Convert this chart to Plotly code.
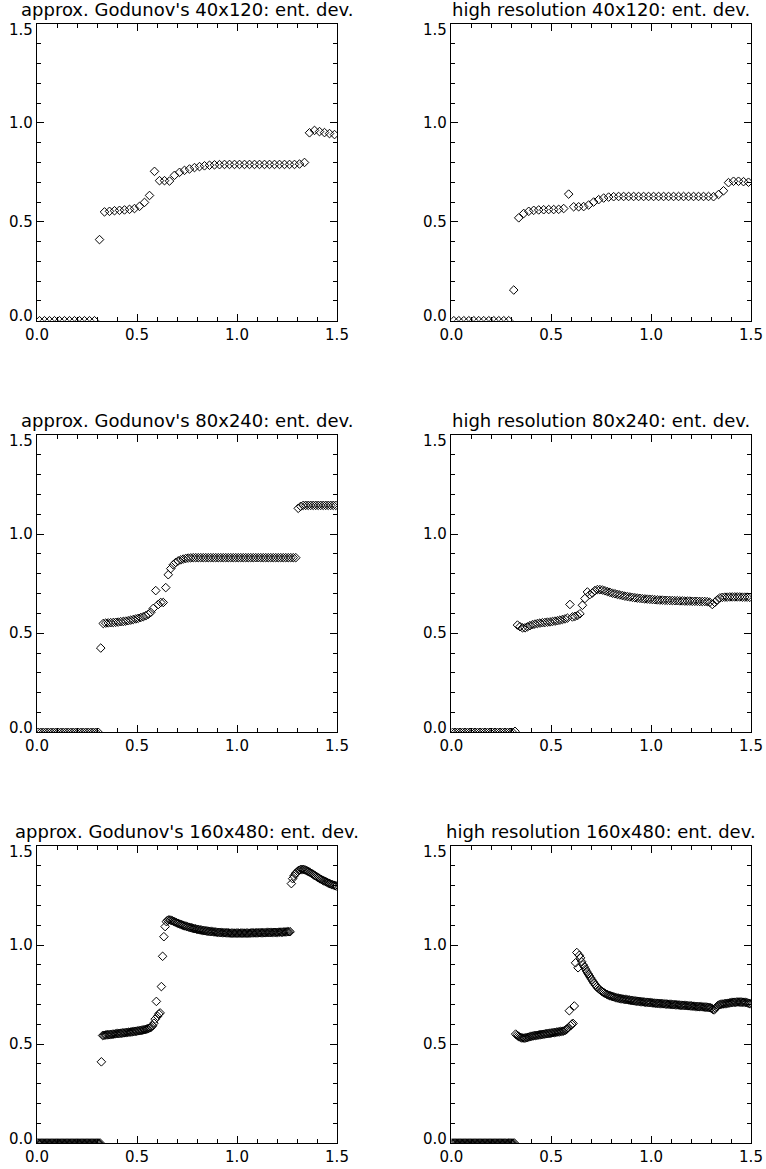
import numpy as np
import plotly.graph_objects as go

# ---------------- data ----------------
DX40 = 0.025      # 40x120 grid spacing
DX80 = 0.0125     # 80x240 grid spacing
DX160 = 0.00625   # 160x480 grid spacing

titles = [
    "approx. Godunov's 40x120: ent. dev.",
    "high resolution 40x120: ent. dev.",
    "approx. Godunov's 80x240: ent. dev.",
    "high resolution 80x240: ent. dev.",
    "approx. Godunov's 160x480: ent. dev.",
    "high resolution 160x480: ent. dev.",
]

tick_vals = [0.0, 0.5, 1.0, 1.5]
tick_text = ["0.0", "0.5", "1.0", "1.5"]

god40 = [0.0, 0.0, 0.0, 0.0, 0.0, 0.0, 0.0, 0.0, 0.0, 0.0, 0.0, 0.0,
         0.41, 0.55, 0.553, 0.556, 0.558, 0.56, 0.563, 0.567, 0.578, 0.598,
         0.633, 0.755, 0.708, 0.708, 0.706, 0.735, 0.750, 0.760, 0.767, 0.774,
         0.779, 0.783, 0.786, 0.788, 0.789, 0.790, 0.790, 0.790, 0.790, 0.790,
         0.790, 0.790, 0.790, 0.790, 0.790, 0.790, 0.790, 0.790, 0.790, 0.790,
         0.792, 0.800, 0.950, 0.962, 0.956, 0.951, 0.946, 0.941]

hr40 = [0.0, 0.0, 0.0, 0.0, 0.0, 0.0, 0.0, 0.0, 0.0, 0.0, 0.0, 0.0,
        0.155, 0.52, 0.542, 0.553, 0.558, 0.56, 0.561, 0.562, 0.562, 0.563,
        0.567, 0.64, 0.576, 0.576, 0.577, 0.585, 0.60, 0.612, 0.62, 0.625,
        0.627, 0.628, 0.628, 0.628, 0.628, 0.628, 0.628, 0.628, 0.628, 0.628,
        0.628, 0.628, 0.628, 0.628, 0.628, 0.628, 0.628, 0.628, 0.628, 0.628,
        0.627, 0.638, 0.657, 0.698, 0.705, 0.705, 0.703, 0.700]

god80 = [0.0] * 25 + [
    0.425, 0.549, 0.551, 0.552, 0.553, 0.554, 0.555, 0.556, 0.558, 0.559,
    0.561, 0.563, 0.566, 0.569, 0.572, 0.575, 0.579, 0.583, 0.588, 0.595,
    0.605, 0.625, 0.715, 0.645, 0.655, 0.655, 0.730, 0.795, 0.826, 0.845,
    0.857, 0.865, 0.870, 0.874, 0.877, 0.879, 0.880] + [0.881] * 42 + [
    1.13, 1.14] + [1.145] * 14

hr80 = [0.0] * 25 + [
    0.005, 0.541, 0.533, 0.527, 0.527, 0.532, 0.538, 0.543, 0.546, 0.549,
    0.551, 0.553, 0.554, 0.556, 0.557, 0.559, 0.561, 0.563, 0.566, 0.569,
    0.572, 0.576, 0.645, 0.582, 0.585, 0.589, 0.598, 0.641, 0.675, 0.708,
    0.695, 0.703, 0.715, 0.720, 0.720, 0.718, 0.714, 0.710, 0.706, 0.702,
    0.699, 0.696, 0.693, 0.690, 0.687, 0.685, 0.683, 0.681, 0.679, 0.677,
    0.676, 0.674, 0.673, 0.672, 0.671, 0.670, 0.669, 0.668, 0.667, 0.667,
    0.666, 0.666, 0.665, 0.665, 0.664, 0.664, 0.663, 0.663, 0.662, 0.662,
    0.662, 0.661, 0.661, 0.661, 0.660, 0.660, 0.660, 0.659, 0.656, 0.645,
    0.655, 0.668, 0.678, 0.681, 0.682, 0.682, 0.683, 0.683, 0.683, 0.683,
    0.683, 0.682, 0.682, 0.682, 0.681]

god160 = [0.0] * 51 + [
    0.41, 0.543, 0.544, 0.545, 0.546, 0.547, 0.547, 0.548, 0.549, 0.550,
    0.550, 0.551, 0.552, 0.553, 0.553, 0.554, 0.555, 0.556, 0.556, 0.557,
    0.558, 0.559, 0.560, 0.560, 0.561, 0.562, 0.563, 0.564, 0.565, 0.566,
    0.567, 0.568, 0.569, 0.570, 0.572, 0.573, 0.575, 0.577, 0.579, 0.582,
    0.586, 0.592, 0.605, 0.625, 0.715, 0.640, 0.652, 0.657, 0.790, 0.943,
    1.042, 1.093, 1.118, 1.125, 1.127, 1.126, 1.124, 1.122, 1.119, 1.116,
    1.113, 1.110, 1.108, 1.105, 1.103, 1.100, 1.098, 1.096, 1.094, 1.092,
    1.090, 1.088, 1.087, 1.085, 1.083, 1.082, 1.080, 1.079, 1.078, 1.076,
    1.075, 1.074, 1.073, 1.072, 1.071, 1.070, 1.069, 1.068, 1.068, 1.067,
    1.066, 1.066, 1.065, 1.064, 1.064, 1.063, 1.063, 1.062, 1.062, 1.062,
    1.061, 1.061, 1.061, 1.060, 1.060, 1.060, 1.060, 1.060, 1.060, 1.060,
    1.060, 1.060, 1.060, 1.060, 1.060, 1.060, 1.060, 1.060, 1.060, 1.060,
    1.061, 1.061, 1.061, 1.061, 1.061, 1.061, 1.062, 1.062, 1.062, 1.062,
    1.062, 1.062, 1.063, 1.063, 1.063, 1.063, 1.063, 1.064, 1.064, 1.064,
    1.064, 1.064, 1.065, 1.065, 1.065, 1.065, 1.066, 1.066, 1.066, 1.067,
    1.067, 1.067, 1.310, 1.335, 1.348, 1.358, 1.366, 1.372, 1.377, 1.380,
    1.382, 1.382, 1.381, 1.379, 1.376, 1.373, 1.370, 1.366, 1.362, 1.358,
    1.354, 1.350, 1.346, 1.342, 1.338, 1.334, 1.331, 1.327, 1.324, 1.321,
    1.318, 1.315, 1.312, 1.309, 1.306, 1.304, 1.302, 1.300, 1.298]

hr160 = [0.0] * 51 + [
    0.550, 0.545, 0.540, 0.536, 0.533, 0.531, 0.530, 0.530, 0.531, 0.532,
    0.534, 0.536, 0.538, 0.539, 0.541, 0.542, 0.543, 0.544, 0.545, 0.546,
    0.547, 0.548, 0.549, 0.550, 0.551, 0.552, 0.553, 0.554, 0.555, 0.556,
    0.557, 0.558, 0.559, 0.560, 0.561, 0.562, 0.563, 0.564, 0.565, 0.567,
    0.570, 0.575, 0.582, 0.668, 0.592, 0.600, 0.604, 0.692, 0.910, 0.962,
    0.885, 0.948, 0.935, 0.915, 0.900, 0.890, 0.878, 0.866, 0.855, 0.845,
    0.835, 0.825, 0.815, 0.806, 0.797, 0.789, 0.782, 0.776, 0.771, 0.766,
    0.762, 0.758, 0.754, 0.751, 0.748, 0.745, 0.743, 0.741, 0.739, 0.737,
    0.735, 0.733, 0.732, 0.730, 0.729, 0.728, 0.727, 0.726, 0.725, 0.724,
    0.723, 0.722, 0.721, 0.720, 0.719, 0.718, 0.717, 0.716, 0.716, 0.715,
    0.714, 0.713, 0.713, 0.712, 0.711, 0.711, 0.710, 0.709, 0.709, 0.708,
    0.707, 0.707, 0.706, 0.706, 0.705, 0.705, 0.704, 0.704, 0.703, 0.703,
    0.702, 0.702, 0.701, 0.701, 0.700, 0.700, 0.699, 0.699, 0.698, 0.698,
    0.697, 0.697, 0.696, 0.696, 0.695, 0.695, 0.694, 0.694, 0.693, 0.693,
    0.692, 0.692, 0.691, 0.691, 0.690, 0.690, 0.689, 0.689, 0.688, 0.688,
    0.687, 0.687, 0.686, 0.686, 0.685, 0.684, 0.683, 0.681, 0.675, 0.672,
    0.680, 0.688, 0.694, 0.698, 0.700, 0.701, 0.702, 0.703, 0.704, 0.705,
    0.706, 0.707, 0.708, 0.709, 0.710, 0.711, 0.711, 0.712, 0.712, 0.712,
    0.712, 0.712, 0.711, 0.711, 0.710, 0.709, 0.707, 0.705, 0.703]

panels = [(god40, DX40), (hr40, DX40),
          (god80, DX80), (hr80, DX80),
          (god160, DX160), (hr160, DX160)]

# ---------------- layout geometry (pixels) ----------------
W, H = 766, 1169
col_px = [(37.0, 337.0), (451.3, 751.0)]
row_px = [(24.0, 320.7), (435.0, 732.3), (846.0, 1143.0)]
# vertical nudge of the y tick labels (the extreme labels sit inside the frame)
ylab_shift = {0.0: 4.5, 0.5: 0.0, 1.0: 0.0, 1.5: -6.0}

FONT = "DejaVu Sans"

fig = go.Figure()
layout = dict(
    template="none",
    width=W, height=H,
    margin=dict(l=0, r=0, t=0, b=0, pad=0, autoexpand=False),
    paper_bgcolor="white", plot_bgcolor="white",
    showlegend=False, hovermode=False,
    font=dict(family=FONT, size=15, color="black"),
    annotations=[],
)

for k, (yvals, dx) in enumerate(panels):
    r, c = divmod(k, 2)
    n = k + 1
    xs = (np.arange(len(yvals)) + 0.5) * dx
    fig.add_trace(go.Scatter(
        x=xs, y=yvals, mode="markers",
        marker=dict(symbol="diamond-open", size=6.6, color="black",
                    line=dict(width=1, color="black")),
        xaxis=f"x{n}", yaxis=f"y{n}", cliponaxis=True,
    ))
    x0, x1 = col_px[c]
    top, bot = row_px[r]
    xd = [x0 / W, x1 / W]
    yd = [1 - bot / H, 1 - top / H]
    common = dict(
        range=[0, 1.5], showline=True, linecolor="black", linewidth=1,
        mirror="ticks", ticks="inside", ticklen=7, tickwidth=1,
        tickcolor="black", tickmode="array", tickvals=tick_vals,
        ticktext=tick_text, showgrid=False, zeroline=False,
        automargin=False,
        tickfont=dict(family=FONT, size=15, color="black"),
        minor=dict(dtick=0.1, tick0=0, ticks="inside", ticklen=4,
                   tickwidth=1, tickcolor="black", showgrid=False),
        fixedrange=True,
    )
    layout[f"xaxis{n}"] = dict(common, domain=xd, anchor=f"y{n}")
    layout[f"yaxis{n}"] = dict(common, domain=yd, anchor=f"x{n}",
                               showticklabels=False)
    # y tick labels (text placed through the y axis scale)
    for tv, tt in zip(tick_vals, tick_text):
        layout["annotations"].append(dict(
            text=tt, xref="paper", yref=f"y{n}", x=xd[0], y=tv,
            xanchor="right", yanchor="middle", xshift=-3,
            yshift=ylab_shift[tv], showarrow=False, borderpad=0,
            font=dict(family=FONT, size=15, color="black"),
        ))
    layout["annotations"].append(dict(
        text=titles[k], xref="paper", yref="paper",
        x=(xd[0] + xd[1]) / 2, y=yd[1], xanchor="center", yanchor="bottom",
        yshift=3, showarrow=False, borderpad=0,
        font=dict(family=FONT, size=18, color="black"),
    ))

fig.update_layout(**layout)
fig.write_html("out.html")
